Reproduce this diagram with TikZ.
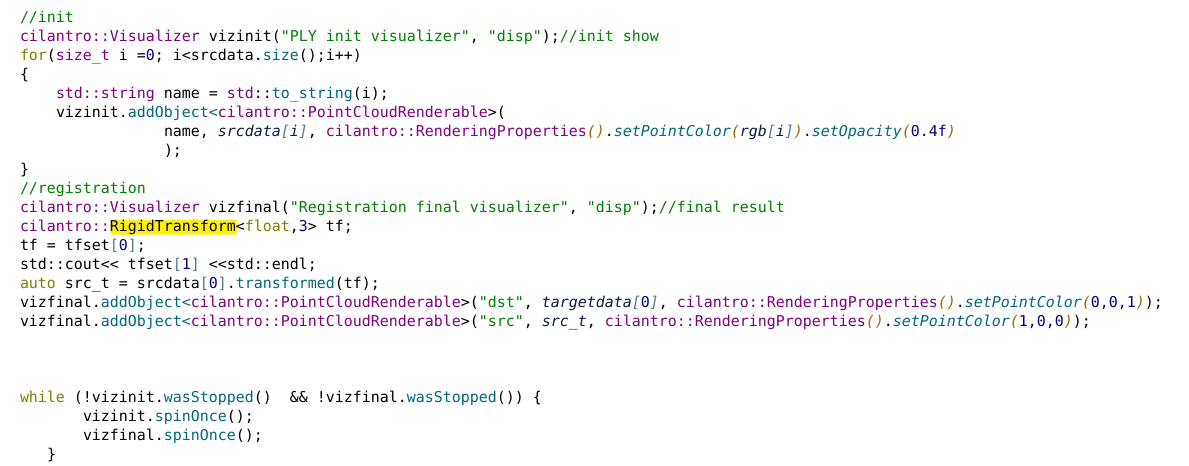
\documentclass[tikz,border=0pt]{standalone}
\usepackage{fontspec}
\setmonofont{DejaVu Sans Mono}
\definecolor{ccom}{HTML}{008000}
\definecolor{cstr}{HTML}{008000}
\definecolor{ckw}{HTML}{808000}
\definecolor{cty}{HTML}{800080}
\definecolor{cfn}{HTML}{00677C}
\definecolor{cnum}{HTML}{000080}
\definecolor{cvar}{HTML}{0C1A4A}
\definecolor{cbr}{HTML}{4F7A8C}
\definecolor{cpa}{HTML}{A06A00}
\definecolor{chl}{HTML}{FFEF10}
\newcommand\zc[1]{\textcolor{ccom}{#1}}
\newcommand\zs[1]{\textcolor{cstr}{#1}}
\newcommand\zk[1]{\textcolor{ckw}{#1}}
\newcommand\zt[1]{\textcolor{cty}{#1}}
\newcommand\zf[1]{\textcolor{cfn}{#1}}
\newcommand\zfi[1]{\textcolor{cfn}{\itshape #1}}
\newcommand\zn[1]{\textcolor{cnum}{#1}}
\newcommand\zv[1]{\textcolor{cvar}{\itshape #1}}
\newcommand\zb[1]{\textcolor{cbr}{\itshape #1}}
\newcommand\zp[1]{\textcolor{cpa}{\itshape #1}}
\begin{document}
\begin{tikzpicture}[x=0.75pt,y=-0.75pt,
  codeline/.style={anchor=base west, inner sep=0pt, outer sep=0pt,
    font=\ttfamily\fontsize{11.21pt}{14pt}\selectfont, text=black}]
\fill[white] (0,0) rectangle (1189,465);
\useasboundingbox (0,0) rectangle (1189,465);
% highlight behind RigidTransform
\fill[chl, rounded corners=1.5] (110.5,219.5) rectangle (237,234.5);
% lines: baseline = 22.5 + 19*(k-1), x = 20 + 9*col
\node[codeline] (l1)  at (20,22.5)  {\zc{//init}};
\node[codeline] (l2)  at (20,41.5)  {\zt{cilantro::Visualizer} vizinit(\zs{"PLY init visualizer"}, \zs{"disp"});\zc{//init show}};
\node[codeline] (l3)  at (20,60.5)  {\zk{for}(\zt{size\_t} i =\zn{0}; i<srcdata.\zf{size}();i++)};
\node[codeline] (l4)  at (20,79.5)  {\{};
\node[codeline] (l5)  at (56,98.5)  {\zt{std::string} name = \zt{std}::\zf{to\_string}(i);};
\node[codeline] (l6)  at (56,117.5) {vizinit.\zf{addObject<}\zt{cilantro::PointCloudRenderable}>(};
\node[codeline] (l7)  at (164,136.5) {name, \zv{srcdata}\zb{[}\zv{i}\zb{]}, \zt{cilantro::RenderingProperties}\zp{()}.\zfi{setPointColor}\zp{(}\zv{rgb}\zb{[}\zv{i}\zb{]}\zp{)}.\zfi{setOpacity}\zp{(}\zn{0.4f}\zp{)}};
\node[codeline] (l8)  at (164,155.5) {);};
\node[codeline] (l9)  at (20,174.5) {\}};
\node[codeline] (l10) at (20,193.5) {\zc{//registration}};
\node[codeline] (l11) at (20,212.5) {\zt{cilantro::Visualizer} vizfinal(\zs{"Registration final visualizer"}, \zs{"disp"});\zc{//final result}};
\node[codeline] (l12) at (20,231.5) {\zt{cilantro::}RigidTransform<\zk{float},\zn{3}> tf;};
\node[codeline] (l13) at (20,250.5) {tf = tfset\textcolor{cbr}{[}\zn{0}\textcolor{cbr}{]};};
\node[codeline] (l14) at (20,269.5) {std::cout<< tfset\textcolor{cbr}{[}\zn{1}\textcolor{cbr}{]} <<std::endl;};
\node[codeline] (l15) at (20,288.5) {\zk{auto} src\_t = srcdata\textcolor{cbr}{[}\zn{0}\textcolor{cbr}{]}.\zf{transformed}(tf);};
\node[codeline] (l16) at (20,307.5) {vizfinal.\zf{addObject<}\zt{cilantro::PointCloudRenderable}>(\zs{"dst"}, \zv{targetdata}\zb{[}\zn{0}\zb{]}, \zt{cilantro::RenderingProperties}\zp{()}.\zfi{setPointColor}\zp{(}\zn{0,0,1}\zp{)});};
\node[codeline] (l17) at (20,326.5) {vizfinal.\zf{addObject<}\zt{cilantro::PointCloudRenderable}>(\zs{"src"}, \zv{src\_t}, \zt{cilantro::RenderingProperties}\zp{()}.\zfi{setPointColor}\zp{(}\zn{1,0,0}\zp{)});};
\node[codeline] (l21) at (20,402.5) {\zk{while} (!vizinit.\zf{wasStopped}()\ \ \&\& !vizfinal.\zf{wasStopped}()) \{};
\node[codeline] (l22) at (83,421.5) {vizinit.\zf{spinOnce}();};
\node[codeline] (l23) at (83,440.5) {vizfinal.\zf{spinOnce}();};
\node[codeline] (l24) at (47,459.5) {\}};
\end{tikzpicture}
\end{document}
